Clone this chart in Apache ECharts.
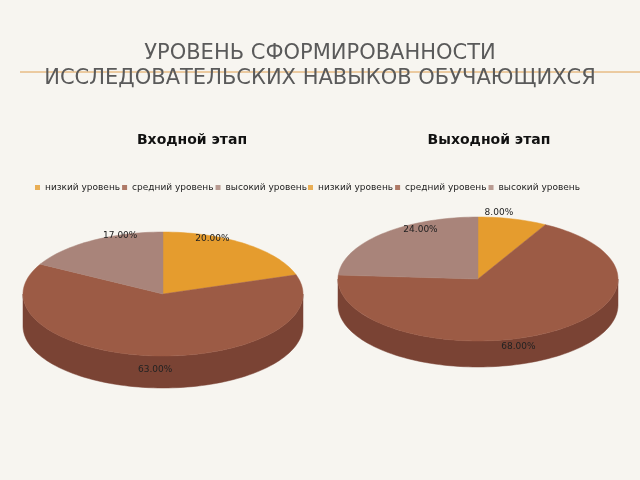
<!DOCTYPE html>
<html><head><meta charset="utf-8">
<script src="https://cdn.jsdelivr.net/npm/echarts@6/dist/echarts.min.js"></script>
<style>html,body{margin:0;background:#f7f5f0}#c{width:640px;height:480px}</style>
</head><body><div id="c"></div>
<script>
// данные
const levels = ['низкий уровень', 'средний уровень', 'высокий уровень'];
const inputStage = [20, 63, 17];
const outputStage = [8, 68, 24];
const topColors = ['#E59C2E', '#9C5B45', '#A9847A'];
const sideColors = ['#B97A22', '#7A4334', '#86655C'];

let chart = echarts.init(document.getElementById('c'));

// псевдо-3D эллиптический пирог
let pie3d = (values, cx, cy, rx, ry, depth) => {
    return (params, api) => {
        let total = values.reduce((a, b) => a + b, 0);
        let pt = (deg, dy) => {
            let r = deg * Math.PI / 180;
            return [cx + rx * Math.sin(r), cy - ry * Math.cos(r) + (dy || 0)];
        };
        let arc = (a0, a1, dy) => {
            let pts = [];
            let n = Math.max(2, Math.ceil((a1 - a0) / 2));
            for (let i = 0; i <= n; i++) pts.push(pt(a0 + (a1 - a0) * i / n, dy));
            return pts;
        };
        let children = [];
        let start = 0;
        let slices = values.map((v, i) => {
            let s = { a0: start, a1: start + v / total * 360, i: i, v: v };
            start = s.a1;
            return s;
        });
        // боковые стенки
        slices.forEach(s => {
            let a0 = Math.max(s.a0, 90), a1 = Math.min(s.a1, 270);
            if (a1 <= a0) return;
            let top = arc(a0, a1, 0);
            let bottom = arc(a0, a1, depth).reverse();
            children.push({ type: 'polygon', shape: { points: top.concat(bottom) },
                style: { fill: sideColors[s.i], stroke: sideColors[s.i], lineWidth: 0.5 } });
        });
        // верх
        slices.forEach(s => {
            children.push({ type: 'polygon', shape: { points: [[cx, cy]].concat(arc(s.a0, s.a1, 0)) },
                style: { fill: topColors[s.i], stroke: topColors[s.i], lineWidth: 0.5 } });
        });
        // подписи
        slices.forEach(s => {
            let m = (s.a0 + s.a1) / 2 * Math.PI / 180;
            children.push({ type: 'text',
                style: { x: cx + rx * 0.6 * Math.sin(m), y: cy - ry * 1.1 * Math.cos(m) + (Math.cos(m) < 0 ? 8 : 0),
                    text: s.v.toFixed(2) + '%', fill: '#222', fontSize: 9, fontFamily: 'DejaVu Sans',
                    align: 'center', verticalAlign: 'middle' } });
        });
        return { type: 'group', children: children };
    };
};

let legendBase = {
    top: 178, icon: 'rect', itemWidth: 5, itemHeight: 5, itemGap: 2,
    textStyle: { fontSize: 9, color: '#222', fontFamily: 'DejaVu Sans' }, data: levels
};

let option = {
    animation: false,
    color: topColors,
    title: [
        { text: 'УРОВЕНЬ СФОРМИРОВАННОСТИ\nИССЛЕДОВАТЕЛЬСКИХ НАВЫКОВ ОБУЧАЮЩИХСЯ', left: 'center', top: 36,
          textStyle: { fontSize: 21, fontWeight: 'normal', color: '#5a5a5a', lineHeight: 25, fontFamily: 'DejaVu Sans' } },
        { text: 'Входной этап', left: 187, top: 128, textAlign: 'center',
          textStyle: { fontSize: 14, fontWeight: 'bold', color: '#111', fontFamily: 'DejaVu Sans' } },
        { text: 'Выходной этап', left: 484, top: 128, textAlign: 'center',
          textStyle: { fontSize: 14, fontWeight: 'bold', color: '#111', fontFamily: 'DejaVu Sans' } }
    ],
    legend: [
        Object.assign({ left: 30 }, legendBase),
        Object.assign({ left: 303 }, legendBase)
    ],
    grid: { show: false, left: 0, top: 0, width: 1, height: 1 },
    xAxis: { show: false, type: 'value' },
    yAxis: { show: false, type: 'value' },
    graphic: [{ type: 'line', shape: { x1: 20, y1: 72, x2: 640, y2: 72 }, style: { stroke: '#E0A050', lineWidth: 1 } }],
    series: levels.map(n => ({ name: n, type: 'scatter', data: [] })).concat([
        { type: 'custom', coordinateSystem: 'none', data: [0], renderItem: pie3d(inputStage, 163, 294, 140, 62, 32) },
        { type: 'custom', coordinateSystem: 'none', data: [0], renderItem: pie3d(outputStage, 478, 279, 140, 62, 26) }
    ])
};
chart.setOption(option);
</script>
</body></html>
